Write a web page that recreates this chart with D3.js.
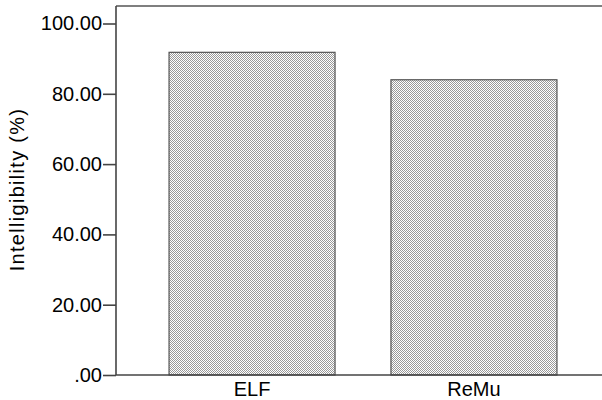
<!DOCTYPE html>
<html><head><meta charset="utf-8">
<script src="https://cdn.jsdelivr.net/npm/d3@7"></script>
<style>body{margin:0;background:#fff}svg{display:block}text{font-family:"Liberation Sans",Arial,sans-serif;fill:#000}</style>
</head><body><svg id="c" width="602" height="400"></svg>
<script>
const categories = ["ELF", "ReMu"];
const values = [91.8, 84.0];
const yTicks = [0, 20, 40, 60, 80, 100];
const yLabel = "Intelligibility (%)";

(function () {
const svg = d3.select("#c");
const mLeft = 116, mRight = 602, mTop = 6, mBottom = 375;
const y = d3.scaleLinear().domain([0, 100]).range([mBottom, 23.5]);
const x = d3.scaleBand().domain(categories).range([mLeft, 610]).paddingInner(0.252).paddingOuter(0.239);

const defs = svg.append("defs");
const pat = defs.append("pattern").attr("id", "chk").attr("patternUnits", "userSpaceOnUse")
  .attr("width", 2).attr("height", 2);
pat.append("rect").attr("width", 2).attr("height", 2).attr("fill", "#fff");
pat.append("rect").attr("x", 0).attr("y", 0).attr("width", 1).attr("height", 1).attr("fill", "#999");
pat.append("rect").attr("x", 1).attr("y", 1).attr("width", 1).attr("height", 1).attr("fill", "#999");

// bars
svg.selectAll("rect.bar").data(values).enter().append("rect").attr("class", "bar")
  .attr("x", (d, i) => x(categories[i]))
  .attr("width", x.bandwidth())
  .attr("y", d => y(d))
  .attr("height", d => mBottom - y(d))
  .attr("fill", "url(#chk)")
  .attr("stroke", "#555").attr("stroke-width", 1.2);

// top frame line
svg.append("line").attr("x1", mLeft).attr("x2", mRight).attr("y1", mTop).attr("y2", mTop)
  .attr("stroke", "#555").attr("stroke-width", 1.6);

// y axis
const yAxis = d3.axisLeft(y).tickValues(yTicks).tickSize(13).tickPadding(1)
  .tickFormat(d => d === 0 ? ".00" : d3.format(".2f")(d));
const gy = svg.append("g").attr("transform", `translate(${mLeft},0)`).call(yAxis);
gy.select(".domain").attr("d", `M0,${mTop}V${mBottom}`).attr("stroke", "#444").attr("stroke-width", 1.6);
gy.selectAll(".tick line").attr("stroke", "#444").attr("stroke-width", 1.6);
gy.selectAll(".tick text").attr("font-size", 20).attr("font-family", "Liberation Sans, Arial, sans-serif").attr("fill", "#000");

// x axis
const xAxis = d3.axisBottom(x).tickSize(0).tickPadding(7);
const gx = svg.append("g").attr("transform", `translate(0,${mBottom})`).call(xAxis);
gx.select(".domain").attr("d", `M${mLeft},0H${mRight}`).attr("stroke", "#444").attr("stroke-width", 1.6);
gx.selectAll(".tick text").attr("font-size", 20).attr("font-family", "Liberation Sans, Arial, sans-serif").attr("fill", "#000");

// y label
svg.append("text").attr("transform", "translate(24,189.5) rotate(-90)")
  .attr("text-anchor", "middle").attr("font-size", 20).style("letter-spacing", "1.3px")
  .text(yLabel);
})();
</script></body></html>
